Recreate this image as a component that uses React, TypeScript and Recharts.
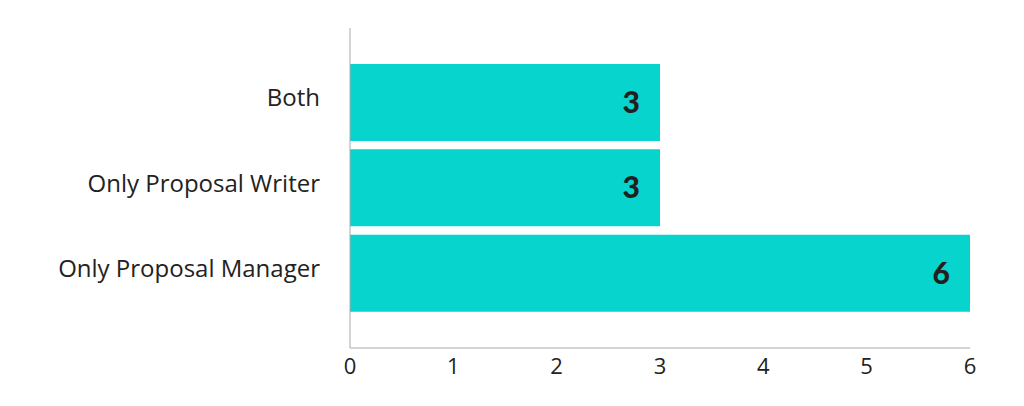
import { BarChart, Bar, XAxis, YAxis, LabelList } from "recharts";

const categories = ["Both", "Only Proposal Writer", "Only Proposal Manager"];
const counts = [3, 3, 6];
const xTicks = [0, 1, 2, 3, 4, 5, 6];

const data = categories.map((name, i) => ({ name, value: counts[i] }));

const font = "Lato, 'Open Sans', sans-serif";
const tickFont = "'Open Sans', Lato, sans-serif";

export default function App() {
  return (
    <div style={{ width: 1008, height: 390, fontFamily: font }}>
      <BarChart
        width={1008}
        height={390}
        data={data}
        layout="vertical"
        margin={{ top: 20, right: 46, bottom: 20, left: 0 }}
        barCategoryGap={4}
      >
        <XAxis
          type="number"
          domain={[0, 6]}
          ticks={xTicks}
          interval={0}
          height={30}
          stroke="#aaaaaa"
          tickLine={false}
          tickSize={0}
          tickMargin={10}
          tick={{ fill: "#222222", fontSize: 22, fontWeight: 400, fontFamily: tickFont }}
        />
        <YAxis
          type="category"
          dataKey="name"
          width={342}
          padding={{ top: 32, bottom: 32 }}
          stroke="#aaaaaa"
          tickLine={false}
          tickSize={0}
          tickMargin={30}
          tick={{ fill: "#222222", fontSize: 24, fontWeight: 400, fontFamily: tickFont, dy: -5 }}
        />
        <Bar dataKey="value" fill="#07d5cd" isAnimationActive={false}>
          <LabelList
            dataKey="value"
            position="insideRight"
            offset={20}
            fill="#231f20"
            fontSize={30}
            fontWeight={900}
            fontFamily={font}
          />
        </Bar>
      </BarChart>
    </div>
  );
}
